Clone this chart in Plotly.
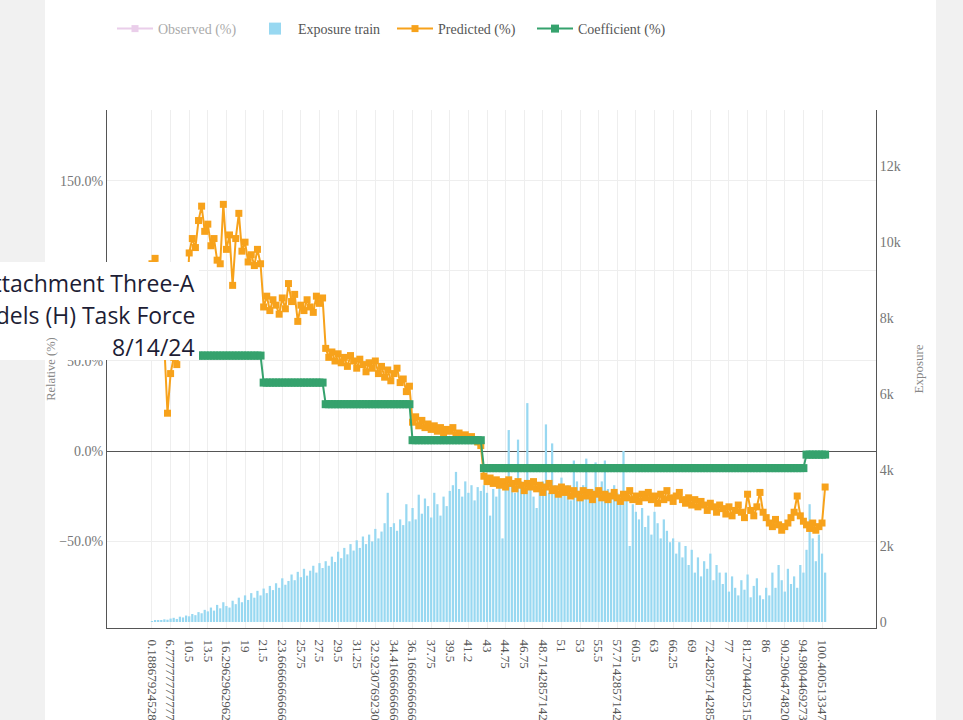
import plotly.graph_objects as go

# ---- data -------------------------------------------------------------
categories = [
    "0.18867924528301888", "1.3333333333333333", "2.5", "3.6", "4.75", "5.8",
    "6.777777777777778", "7.5", "8", "8.75", "9.333333333333334", "10",
    "10.5", "11", "11.5", "12", "12.5", "13",
    "13.5", "14", "14.5", "15", "15.5", "16",
    "16.296296296296298", "16.75", "17.25", "17.75", "18.25", "18.5",
    "19", "19.5", "20", "20.5", "20.75", "21",
    "21.5", "21.75", "22", "22.5", "23", "23.25",
    "23.666666666666668", "24", "24.5", "24.75", "25", "25.5",
    "25.75", "26", "26.25", "26.5", "26.75", "27",
    "27.5", "27.75", "28", "28.25", "28.5", "29",
    "29.5", "29.75", "30", "30.5", "30.75", "31",
    "31.25", "31.5", "31.75", "32", "32.25", "32.5",
    "32.92307692307692", "33.25", "33.5", "33.75", "34", "34.25",
    "34.416666666666664", "34.75", "35", "35.25", "35.5", "35.75",
    "36.166666666666664", "36.5", "36.75", "37", "37.25", "37.5",
    "37.75", "38", "38.25", "38.5", "39", "39.25",
    "39.5", "39.75", "40", "40.5", "40.75", "41",
    "41.2", "41.5", "41.75", "42", "42.5", "42.75",
    "43", "43.25", "43.5", "44", "44.25", "44.5",
    "44.75", "45", "45.25", "45.5", "45.75", "46",
    "46.75", "47", "47.25", "47.5", "48", "48.25",
    "48.714285714285715", "49", "49.5", "49.75", "50", "50.5",
    "51", "51.25", "51.5", "52", "52.5", "52.75",
    "53", "53.5", "54", "54.25", "54.5", "55",
    "55.5", "55.75", "56", "56.5", "57", "57.25",
    "57.714285714285715", "58", "58.5", "59", "59.5", "60",
    "60.5", "61", "61.25", "61.75", "62", "62.5",
    "63", "63.5", "64", "64.5", "65", "65.5",
    "66.25", "66.75", "67.25", "67.75", "68.25", "68.5",
    "69", "69.5", "70.25", "70.75", "71.25", "71.75",
    "72.42857142857143", "73", "73.75", "74.5", "75.25", "76",
    "77", "77.75", "78.5", "79.25", "80", "80.5",
    "81.27044025157232", "82", "82.75", "83.5", "84.25", "85",
    "86", "86.75", "87.5", "88.25", "89", "89.5",
    "90.29064748201438", "91", "91.75", "92.5", "93.25", "94",
    "94.98044692737431", "95.75", "96.5", "97.25", "98", "99",
    "100.40051334702259", "107.5",
]

exposure_train = [
    20, 35, 50, 40, 70, 60, 90, 110, 80, 140, 120, 170, 150, 210, 180,
    260, 230, 320, 280, 380, 300, 450, 360, 520, 420, 380, 560, 470, 640, 520,
    700, 580, 760, 640, 820, 700,
    880, 760, 950, 840, 1020, 900, 1150, 980, 1080, 1250, 1100, 1320, 1180, 1400,
    1220, 1350, 1480, 1300, 1550, 1420,
    1600, 1480, 1720, 1580, 1850, 1680, 1950, 1780, 2050, 1880, 2150, 1950, 2250,
    2050, 2300, 2120, 2450, 2200, 2380, 2600, 3400, 2500, 2600, 2400, 2700, 2550,
    3100, 2650,
    3000, 2700, 3350, 2850, 3250, 3050, 2750, 3400, 3100, 2800, 3300, 3050, 3450,
    3600, 3950, 3500, 3300, 3700, 3400, 3600, 3200, 3550, 3450,
    3600, 3400, 2800, 3500, 3300, 3700, 2200, 3500, 5050, 3600, 3400, 4800, 3700,
    3500, 5760, 3600, 3300, 3000, 3500, 3700, 5200, 3400, 4700, 3600, 3300, 3800,
    3500, 3600, 3200, 4250, 3700, 3400, 3600, 4300, 3300, 3500, 4200, 3400, 3700,
    4250, 3500, 3300, 3600, 3400, 3100,
    4500, 3200, 2000, 3100, 2900,
    2700, 3000, 2500, 2800, 2300, 2900, 2600, 2200, 2700, 2400, 2100,
    2200, 1800, 2100, 1700, 2000,
    1500, 1900, 1300, 1700, 1200, 1600, 1400, 1800, 1100, 1500, 1300,
    1000, 1300, 800, 1200, 900, 700, 1100, 850, 1250, 650, 950, 1150, 700, 600,
    900, 700,
    1300, 900, 1500, 1100, 800, 1400, 1000, 1200, 900, 1500, 1300,
    1900, 3100, 2200, 1600, 2300, 1800, 1300,
]

predicted_pct = [
    104, 107, 102, 96, 58, 21, 43, 52, 48, 55, 53, 75, 110, 118, 113,
    128, 136, 122, 126, 114, 118, 106, 104, 137, 112, 120, 92, 118, 132, 111,
    116, 105, 109, 103, 112, 104,
    80, 86, 78, 84, 81, 76, 85, 79, 93, 83, 87, 72, 81, 78, 84, 80, 77, 86, 82, 85,
    57, 52, 55, 50, 54, 49, 52, 47, 53, 50, 46, 51, 48, 44, 49, 46, 50, 43, 47,
    41, 45, 39, 43, 46, 38, 40, 33, 36,
    16, 19, 14, 17, 13, 15, 12, 14, 11, 13, 10, 12, 11, 13, 9, 10, 8, 9, 7, 8, 6,
    5, 3,
    -14, -17, -15, -18, -16, -19, -17, -20, -16, -18, -21, -17, -19, -22, -18,
    -20, -17, -21, -19, -23, -20, -18, -22, -21, -24, -20, -23, -21, -25, -22,
    -24, -26, -22, -25, -23, -27, -24, -22, -26, -24, -27, -25, -23, -26, -28,
    -24, -26, -22, -27, -25, -28, -24, -26, -23, -27, -25, -29, -24, -27, -22,
    -26, -28, -25, -23, -27, -29, -26, -30, -27, -31, -28, -30, -33, -29, -31,
    -34, -30, -32, -35, -31, -36, -33, -30, -34, -37, -24, -33, -36, -31, -23,
    -34, -37, -40, -42, -38, -41, -44, -42, -40, -37, -34, -25, -36, -39, -41,
    -43, -40, -44, -42, -40, -20,
]

# observed relativities are loaded but hidden (legend only)
observed_pct = list(predicted_pct)

coefficient_pct = (
    [53] * 36 + [38] * 20 + [26] * 28 + [6] * 23 + [-9.5] * 104 + [-2] * 7
)

# ---- figure -----------------------------------------------------------
SERIF = "Liberation Serif"
L, R, T, B = 107, 87, 110, 92
W, H = 963, 720
PW, PH = W - L - R, H - T - B


def px_x(px):
    return (px - L) / PW


def px_y(py):
    return (H - B - py) / PH


fig = go.Figure()

fig.add_trace(go.Scatter(
    x=categories, y=observed_pct, name="Observed (%)", yaxis="y2",
    mode="lines+markers", visible="legendonly",
    line=dict(color="#D69ED6", width=2),
    marker=dict(symbol="square", size=7, color="#D69ED6"),
))

fig.add_trace(go.Bar(
    x=categories, y=exposure_train, name="Exposure train", yaxis="y",
    marker=dict(color="#98D8F1", line=dict(width=0)),
))

fig.add_trace(go.Scatter(
    x=categories, y=predicted_pct, name="Predicted (%)", yaxis="y2",
    mode="lines+markers",
    line=dict(color="#F7A21B", width=2),
    marker=dict(symbol="square", size=7, color="#F7A21B"),
))

fig.add_trace(go.Scatter(
    x=categories, y=coefficient_pct, name="Coefficient (%)", yaxis="y2",
    mode="lines+markers",
    line=dict(color="#35A26D", width=2),
    marker=dict(symbol="square", size=8, color="#35A26D"),
))

fig.update_layout(
    width=W, height=H,
    margin=dict(l=L, r=R, t=T, b=B, autoexpand=False),
    paper_bgcolor="white", plot_bgcolor="white",
    font=dict(family=SERIF, size=13, color="#666"),
    bargap=0.28,
    showlegend=True,
    legend=dict(
        orientation="h", x=px_x(112), xanchor="left",
        y=px_y(13), yanchor="top",
        font=dict(family=SERIF, size=14, color="#555"),
        bgcolor="rgba(0,0,0,0)",
        itemwidth=36,
        entrywidth=89, entrywidthmode="pixels",
    ),
    xaxis=dict(
        type="category", range=[-14.5, 233.4],
        tickmode="linear", tick0=0, dtick=6, tickangle=90,
        showgrid=True, gridcolor="#eeeeee",
        showline=True, linecolor="#555", linewidth=1,
        ticks="", automargin=False, ticklabelstandoff=8,
        tickfont=dict(family=SERIF, size=13, color="#555"),
    ),
    yaxis=dict(
        side="right", range=[-158, 13474],
        tickmode="linear", tick0=0, dtick=2000, tickformat="~s",
        showgrid=False, zeroline=False,
        showline=True, linecolor="#555", linewidth=1,
        ticks="", automargin=False,
        title=dict(text="Exposure", font=dict(family=SERIF, size=13, color="#888"),
                   standoff=14),
        tickfont=dict(family=SERIF, size=14, color="#777"),
    ),
    yaxis2=dict(
        side="left", overlaying="y", range=[-98.3, 189.4],
        tickmode="linear", tick0=0, dtick=50,
        tickformat=".1f", ticksuffix="%",
        showgrid=True, gridcolor="#eeeeee",
        zeroline=True, zerolinecolor="#555", zerolinewidth=1,
        showline=True, linecolor="#555", linewidth=1,
        ticks="", automargin=False,
        title=dict(text="Relative (%)", font=dict(family=SERIF, size=12.5, color="#888"),
                   standoff=0),
        tickfont=dict(family=SERIF, size=14, color="#777"),
    ),
)

# page strips around the chart panel
fig.add_shape(type="rect", xref="paper", yref="paper",
              x0=px_x(0), x1=px_x(45), y0=px_y(720), y1=px_y(0),
              fillcolor="#f1f1f1", line=dict(width=0), layer="below")
fig.add_shape(type="rect", xref="paper", yref="paper",
              x0=px_x(936), x1=px_x(963), y0=px_y(720), y1=px_y(0),
              fillcolor="#f1f1f1", line=dict(width=0), layer="below")

# document header box laid over the chart
fig.add_shape(type="rect", xref="paper", yref="paper",
              x0=px_x(-5), x1=px_x(199), y0=px_y(360), y1=px_y(262),
              fillcolor="white", line=dict(width=0), layer="above")

header_lines = ["Attachment Three-A", "Generalized Linear Models (H) Task Force", "8/14/24"]
header_y = [283, 315, 347]
for text, yy in zip(header_lines, header_y):
    fig.add_annotation(
        text=text, xref="paper", yref="paper",
        x=px_x(197), xanchor="right", y=px_y(yy), yanchor="middle",
        showarrow=False,
        font=dict(family="Open Sans", size=23, color="#1d1d35"),
    )

fig.write_html("out.html")
